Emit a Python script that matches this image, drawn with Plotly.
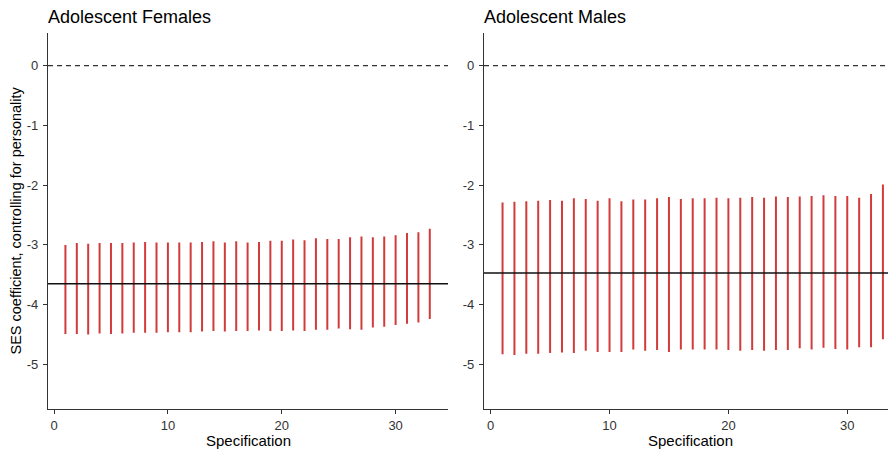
import plotly.graph_objects as go

spec = list(range(1, 34))

fem_upper = [-3.00, -2.97, -2.98, -2.97, -2.97, -2.97, -2.96, -2.95, -2.96, -2.96, -2.96,
             -2.96, -2.95, -2.94, -2.96, -2.94, -2.96, -2.95, -2.93, -2.93, -2.91, -2.92,
             -2.89, -2.90, -2.90, -2.87, -2.86, -2.87, -2.86, -2.84, -2.80, -2.79, -2.73]
fem_lower = [-4.49, -4.49, -4.50, -4.48, -4.49, -4.48, -4.47, -4.47, -4.47, -4.46, -4.46,
             -4.46, -4.45, -4.44, -4.45, -4.44, -4.44, -4.43, -4.44, -4.44, -4.43, -4.44,
             -4.42, -4.42, -4.40, -4.41, -4.42, -4.38, -4.37, -4.34, -4.32, -4.30, -4.24]
fem_ref = -3.65

male_upper = [-2.29, -2.28, -2.27, -2.26, -2.25, -2.26, -2.22, -2.23, -2.26, -2.22, -2.27,
              -2.24, -2.24, -2.22, -2.20, -2.23, -2.22, -2.22, -2.21, -2.22, -2.21, -2.20,
              -2.21, -2.19, -2.20, -2.19, -2.18, -2.17, -2.18, -2.18, -2.21, -2.15, -1.99]
male_lower = [-4.83, -4.84, -4.82, -4.82, -4.81, -4.80, -4.81, -4.77, -4.79, -4.79, -4.79,
              -4.75, -4.77, -4.76, -4.79, -4.75, -4.75, -4.75, -4.75, -4.76, -4.77, -4.76,
              -4.77, -4.76, -4.76, -4.73, -4.75, -4.72, -4.74, -4.75, -4.71, -4.71, -4.58]
male_ref = -3.47

panel_titles = ["Adolescent Females", "Adolescent Males"]
x_title = "Specification"
y_title = "SES coefficient, controlling for personality"
y_ticks = [0, -1, -2, -3, -4, -5]
y_tick_labels = ["0", "-1", "-2", "-3", "-4", "-5"]
x_ticks = [0, 10, 20, 30]
x_tick_labels = ["0", "10", "20", "30"]

# the page body has an 8px margin; lay out in page pixels and convert
OFF = 8
W, H = 896 - OFF, 450 - OFF
def px(x):
    return (x - OFF) / W
def py(y):
    return 1 - (y - OFF) / H

FONT = "Liberation Sans, Arial, sans-serif"
BAR = "#d13b3b"

def segs(xs, lo, hi):
    X, Y = [], []
    for x, a, b in zip(xs, lo, hi):
        X += [x, x, None]
        Y += [a, b, None]
    return X, Y

fig = go.Figure()
for k, (lo, hi, ref) in enumerate([(fem_lower, fem_upper, fem_ref),
                                    (male_lower, male_upper, male_ref)]):
    xa = "x" if k == 0 else "x2"
    ya = "y" if k == 0 else "y2"
    X, Y = segs(spec, lo, hi)
    fig.add_trace(go.Scatter(x=X, y=Y, mode="lines", xaxis=xa, yaxis=ya,
                             line=dict(color=BAR, width=2), showlegend=False,
                             hoverinfo="skip"))
    xd = "x domain" if k == 0 else "x2 domain"
    fig.add_shape(type="line", xref=xd, yref=ya, x0=0, x1=1, y0=0, y1=0,
                  line=dict(color="#333", width=1.2, dash="5px,4px"))
    fig.add_shape(type="line", xref=xd, yref=ya, x0=0, x1=1, y0=ref, y1=ref,
                  line=dict(color="#111", width=1.3))

ydom = [py(409.3), py(33.3)]
axis_common = dict(showline=True, linecolor="#333", linewidth=1.2, ticks="outside",
                   ticklen=4, tickcolor="#333", tickwidth=1.1, showgrid=False,
                   zeroline=False, tickfont=dict(family=FONT, size=13, color="#333"))

fig.update_layout(
    width=W, height=H, margin=dict(l=0, r=0, t=0, b=0),
    plot_bgcolor="white", paper_bgcolor="white",
    xaxis=dict(domain=[px(48), px(448)], range=[-0.53, 34.6], tickvals=x_ticks,
               ticktext=x_tick_labels, anchor="y", **axis_common),
    yaxis=dict(domain=ydom, range=[-5.75, 0.54], tickvals=y_ticks,
               ticktext=y_tick_labels, anchor="x", ticklabelstandoff=2, **axis_common),
    xaxis2=dict(domain=[px(484), 1.0], range=[-0.56, 34.1], tickvals=x_ticks,
                ticktext=x_tick_labels, anchor="y2", **axis_common),
    yaxis2=dict(domain=ydom, range=[-5.75, 0.54], tickvals=y_ticks,
                ticktext=y_tick_labels, anchor="x2", ticklabelstandoff=2, **axis_common),
)

ann = []
for xp, t in [(46, panel_titles[0]), (482, panel_titles[1])]:
    ann.append(dict(x=px(xp), y=py(17), xref="paper", yref="paper", text=t,
                    showarrow=False, xanchor="left", yanchor="middle",
                    font=dict(family=FONT, size=18, color="#000")))
for xc in [(48 + 448) / 2, (484 + 896) / 2]:
    ann.append(dict(x=px(xc), y=py(440), xref="paper", yref="paper", text=x_title,
                    showarrow=False, xanchor="center", yanchor="middle",
                    font=dict(family=FONT, size=15, color="#000")))
ann.append(dict(x=px(15.5), y=py(221), xref="paper", yref="paper", text=y_title,
                showarrow=False, xanchor="center", yanchor="middle", textangle=-90,
                font=dict(family=FONT, size=14.5, color="#000")))
fig.update_layout(annotations=ann)

fig.write_html("out.html")
